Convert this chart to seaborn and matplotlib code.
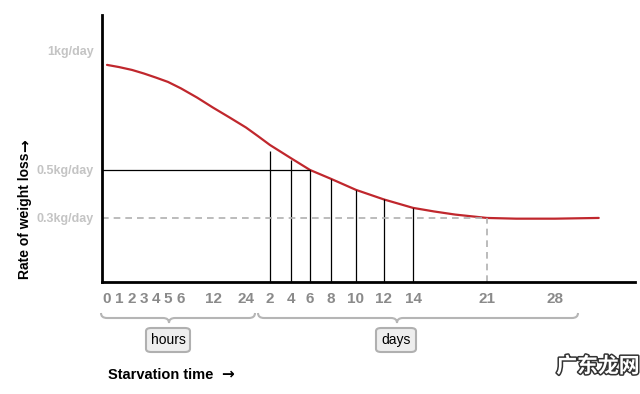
import numpy as np
import matplotlib
matplotlib.use("Agg")
import matplotlib.pyplot as plt
import matplotlib.patheffects as pe
from matplotlib.path import Path
from matplotlib.patches import PathPatch, FancyBboxPatch
import seaborn as sns

# starvation time in hours (days written as hours)
rate_hours = [0, 1, 2, 3, 4, 5, 6, 9, 12, 18, 24, 36, 48, 96, 144, 192, 240, 288, 336,
              384, 432, 504, 576, 672, 780]
# rate of weight loss, kg/day
rate_kg = [0.938, 0.929, 0.917, 0.902, 0.885, 0.867, 0.840, 0.802, 0.760, 0.719, 0.677,
           0.641, 0.604, 0.549, 0.500, 0.463, 0.417, 0.377, 0.342,
           0.327, 0.314, 0.300, 0.297, 0.297, 0.300]

tick_hours = [0, 1, 2, 3, 4, 5, 6, 12, 24, 48, 96, 144, 192, 240, 288, 336, 504, 672]
tick_labels = ["0", "1", "2", "3", "4", "5", "6", "12", "24",
               "2", "4", "6", "8", "10", "12", "14", "21", "28"]
# where each tick sits along the (uneven) axis, in pixels
tick_px = [107, 119, 132, 144, 156, 168, 181, 213, 246, 270, 291, 310, 331, 356, 384, 413, 487, 555]

day_marks = [48, 96, 144, 192, 240, 288, 336]
day_mark_top = [0.579, 0.542, 0.500, 0.463, 0.417, 0.377, 0.342]

y_ticks = [1.0, 0.5, 0.3]
y_labels = ["1kg/day", "0.5kg/day", "0.3kg/day"]

W, H = 640, 394

# uneven time axis: piecewise linear between the tick positions
anchor_h = np.array([-24] + tick_hours + [1200], dtype=float)
anchor_px = np.array([107 - 24 * 12] + tick_px + [555 + (528 / 168) * 68], dtype=float)


def fwd(h):
    return np.interp(h, anchor_h, anchor_px)


def inv(p):
    return np.interp(p, anchor_px, anchor_h)


sns.set_theme(style="white")
plt.rcParams["font.family"] = ["Liberation Sans", "DejaVu Sans"]

fig = plt.figure(figsize=(W / 100, H / 100), dpi=100)
ax = fig.add_axes([102 / W, 1 - 282 / H, (635 - 102) / W, (282 - 15) / H])

sns.lineplot(x=rate_hours, y=rate_kg, ax=ax, color="#c0272d", linewidth=1.6)

ax.set_xscale("function", functions=(fwd, inv))
x0, x1 = inv(102), inv(635)
y0, y1 = 0.033, 1.146
ax.set_xlim(x0, x1)
ax.set_ylim(y0, y1)

# guide lines
ax.vlines(day_marks, y0, day_mark_top, colors="black", linewidth=0.9)
ax.hlines(0.5, x0, 144, colors="black", linewidth=0.9)
ax.hlines(0.3, x0, 504, colors="#b0b0b0", linewidth=1.2, linestyles=(0, (4, 3)))
ax.vlines(504, y0, 0.3, colors="#b0b0b0", linewidth=1.2, linestyles=(0, (4, 3)))

ax.set_xticks(tick_hours)
ax.set_xticklabels(tick_labels, fontsize=11, fontweight="bold", color="#8a8a8a",
                   family=["Liberation Sans Narrow", "Liberation Sans"])
ax.set_yticks(y_ticks)
ax.set_yticklabels(y_labels, fontsize=9, fontweight="bold", color="#c4c4c4")
ax.tick_params(axis="x", length=0, pad=7)
ax.tick_params(axis="y", length=0, pad=6)
ax.set_xlabel("")
ax.set_ylabel("")

for side in ["top", "right"]:
    ax.spines[side].set_visible(False)
for side in ["left", "bottom"]:
    ax.spines[side].set_linewidth(2)
    ax.spines[side].set_color("black")


def px(x, y):
    return (x / W, 1 - y / H)


def brace(xa, xb, tip):
    ytop, ymid, ybot, r = 313, 318, 323, 6
    pts = [px(xa, ytop), px(xa, ymid), px(xa + r, ymid),
           px(tip - r, ymid), px(tip, ymid), px(tip, ybot),
           px(tip, ymid), px(tip + r, ymid),
           px(xb - r, ymid), px(xb, ymid), px(xb, ytop)]
    codes = [Path.MOVETO, Path.CURVE3, Path.CURVE3,
             Path.LINETO, Path.CURVE3, Path.CURVE3,
             Path.CURVE3, Path.CURVE3,
             Path.LINETO, Path.CURVE3, Path.CURVE3]
    fig.patches.append(PathPatch(Path(pts, codes), transform=fig.transFigure,
                                 facecolor="none", edgecolor="#b5b5b5", linewidth=1.5))


brace(101, 255, 169)
brace(258, 578, 397)


def tag(text, xa, xb):
    xa_, ya_ = px(xa, 352)
    xb_, yb_ = px(xb, 328)
    fig.patches.append(FancyBboxPatch((xa_, ya_), xb_ - xa_, yb_ - ya_,
                                      boxstyle="round,pad=0,rounding_size=0.008",
                                      transform=fig.transFigure, facecolor="#eeeeee",
                                      edgecolor="#b0b0b0", linewidth=1.5))
    fig.text((xa_ + xb_) / 2, (ya_ + yb_) / 2, text, ha="center", va="center",
             fontsize=10, color="black")


tag("hours", 146, 190)
tag("days", 376, 416)

# axis titles; the arrows come from DejaVu Sans, which draws them full size
fig.text(25 / W, 1 - 216 / H, "Rate of weight loss", rotation=90, ha="center",
         va="center", fontsize=10, fontweight="bold", color="black")
fig.text(25 / W, 1 - 146 / H, "→", rotation=90, ha="center", va="center",
         fontsize=11, fontweight="bold", color="black", family="DejaVu Sans")
fig.text(108 / W, 1 - 375 / H, "Starvation time", ha="left", va="center",
         fontsize=10.5, fontweight="bold", color="black")
fig.text(227 / W, 1 - 374 / H, "→", ha="center", va="center",
         fontsize=11, fontweight="bold", color="black", family="DejaVu Sans")

fig.text(598 / W, 1 - 366 / H, "广东龙网", ha="center", va="center", fontsize=15,
         fontweight="bold", color="white", family=["Noto Sans CJK SC", "DejaVu Sans"],
         path_effects=[pe.withStroke(linewidth=2.2, foreground="#333333")])

fig.savefig("out.png", dpi=100)
